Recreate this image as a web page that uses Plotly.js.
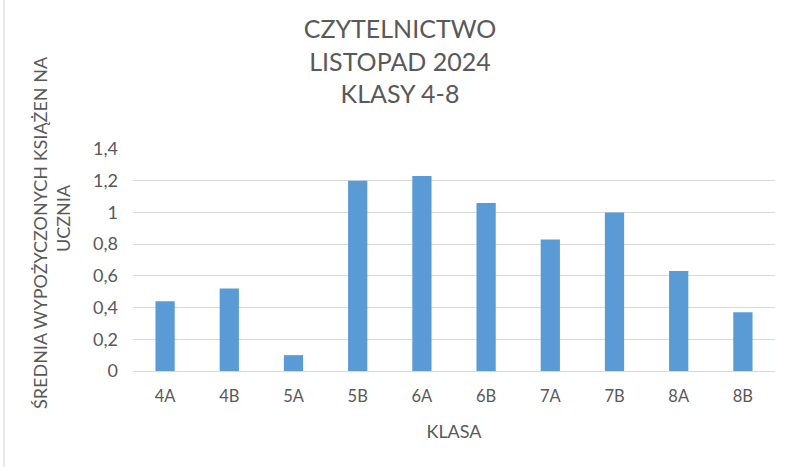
<!DOCTYPE html>
<html>
<head>
<meta charset="utf-8">
<script src="https://cdn.plot.ly/plotly-3.0.1.min.js"></script>
<style>
  html, body { margin: 0; padding: 0; background: #fff; }
  #chart { width: 800px; height: 467px; }
</style>
</head>
<body>
<div id="chart"></div>
<script>
const classes = ["4A", "4B", "5A", "5B", "6A", "6B", "7A", "7B", "8A", "8B"];
const avgBooks = [0.44, 0.52, 0.1, 1.2, 1.23, 1.06, 0.83, 1.0, 0.63, 0.37];
const yTicks = [0, 0.2, 0.4, 0.6, 0.8, 1, 1.2, 1.4];

const grey = "#595959";
const font = "Lato, 'Open Sans', sans-serif";

Plotly.newPlot("chart", [{
    type: "bar",
    x: classes,
    y: avgBooks,
    marker: {color: "#5b9bd5"},
    hoverinfo: "x+y"
  }], {
    width: 800,
    height: 467,
    margin: {l: 133, r: 25, t: 149, b: 96},
    paper_bgcolor: "#fff",
    plot_bgcolor: "#fff",
    separators: ",.",
    bargap: 0.7,
    font: {family: font, color: grey},
    title: {
      text: "CZYTELNICTWO<br>LISTOPAD 2024<br>KLASY 4-8",
      font: {size: 25, color: grey, family: font},
      xref: "container", x: 0.5,
      yref: "container", y: 0.918, yanchor: "top"
    },
    xaxis: {
      type: "category",
      showline: false,
      ticks: "",
      ticklabelstandoff: 13,
      tickfont: {size: 16.5, color: grey},
      title: {text: "KLASA", font: {size: 18, color: grey}, standoff: 20}
    },
    yaxis: {
      range: [0, 1.4],
      tickvals: yTicks,
      showgrid: true,
      gridcolor: "#d9d9d9",
      gridwidth: 1,
      zeroline: true,
      zerolinecolor: "#d9d9d9",
      showline: false,
      ticks: "",
      ticklabelstandoff: 14,
      tickfont: {size: 18, color: grey}
    },
    annotations: [{
      text: "ŚREDNIA WYPOŻYCZONYCH KSIĄŻEN NA",
      textangle: -90,
      xref: "paper", yref: "paper",
      x: (40 - 133) / 642, y: (371 - 233) / 222,
      xanchor: "center", yanchor: "middle",
      showarrow: false,
      font: {size: 18, color: grey, family: font}
    }, {
      text: "UCZNIA",
      textangle: -90,
      xref: "paper", yref: "paper",
      x: (63 - 133) / 642, y: (371 - 218) / 222,
      xanchor: "center", yanchor: "middle",
      showarrow: false,
      font: {size: 18, color: grey, family: font}
    }],
    shapes: [{
      type: "line", xref: "paper", yref: "paper",
      x0: (4 - 133) / 642, x1: (4 - 133) / 642,
      y0: -96 / 222, y1: 467 / 222 - 96 / 222,
      line: {color: "#d0d0d0", width: 1}
    }]
  }, {staticPlot: true});
</script>
</body>
</html>
